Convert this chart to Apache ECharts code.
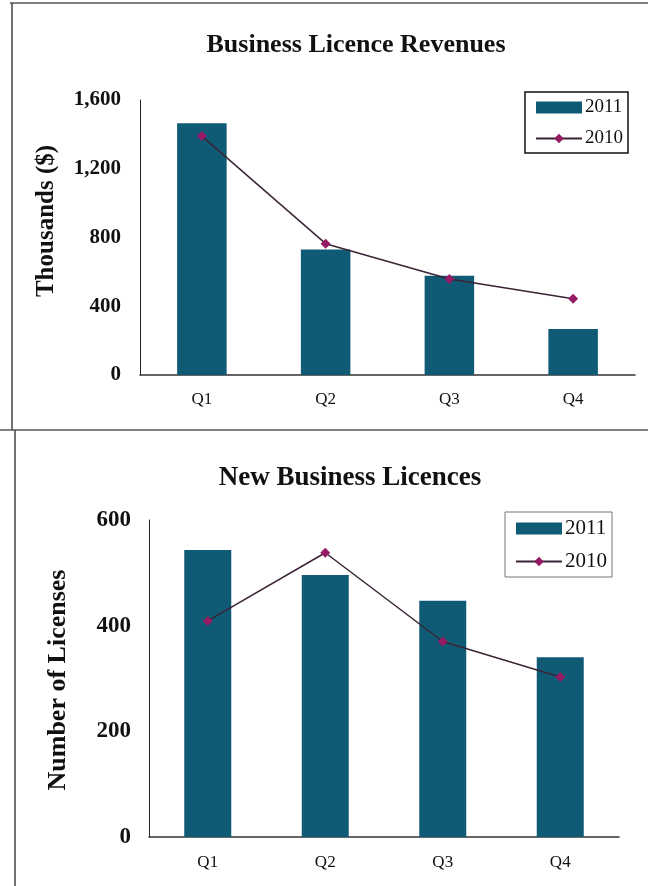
<!DOCTYPE html>
<html>
<head>
<meta charset="utf-8">
<script src="https://cdn.jsdelivr.net/npm/echarts@6/dist/echarts.min.js"></script>
<style>
  html, body { margin: 0; padding: 0; background: #fff; }
  #chart { width: 648px; height: 886px; }
</style>
</head>
<body>
<div id="chart"></div>
<script>
// Quarterly categories shared by both panels
const quarters = ['Q1', 'Q2', 'Q3', 'Q4'];

// Business licence revenues, thousands of dollars
const revenue2011 = [1465, 730, 578, 268];
const revenue2010 = [1390, 764, 558, 443];
const revenueTicks = [0, 400, 800, 1200, 1600];

// New business licences issued
const licences2011 = [543, 496, 447, 340];
const licences2010 = [409, 538, 370, 303];
const licenceTicks = [0, 200, 400, 600];

const SERIF = '"Liberation Serif", "Times New Roman", "DejaVu Serif", serif';
const BAR_COLOR = '#0f5a74';
const MARK_COLOR = '#951c64';
const LINE_COLOR = '#3a2436';

function fmtThousands(v) {
  return String(v).replace(/\B(?=(\d{3})+(?!\d))/g, ',');
}

function valueAxis(gridIndex, ticks, fontSize, margin) {
  const step = ticks[1] - ticks[0];
  return {
    type: 'value', gridIndex: gridIndex,
    min: ticks[0], max: ticks[ticks.length - 1], interval: step,
    axisLine: { show: true, lineStyle: { color: '#222', width: 1 } },
    axisTick: { show: false },
    splitLine: { show: false },
    axisLabel: {
      margin: margin, color: '#111', fontFamily: SERIF, fontWeight: 'bold', fontSize: fontSize,
      formatter: fmtThousands
    }
  };
}

function categoryAxis(gridIndex, margin) {
  return {
    type: 'category', gridIndex: gridIndex, data: quarters,
    axisLine: { show: true, lineStyle: { color: '#333', width: 1.5 } },
    axisTick: { show: false },
    axisLabel: { margin: margin, color: '#111', fontFamily: SERIF, fontSize: 17 }
  };
}

function barSeries(idx, data) {
  return {
    name: '2011', type: 'bar', xAxisIndex: idx, yAxisIndex: idx, data: data,
    barWidth: '40%', itemStyle: { color: BAR_COLOR }, z: 2
  };
}

function lineSeries(idx, data) {
  return {
    name: '2010', type: 'line', xAxisIndex: idx, yAxisIndex: idx, data: data,
    symbol: 'diamond', symbolSize: 10,
    itemStyle: { color: MARK_COLOR },
    lineStyle: { color: LINE_COLOR, width: 1.5 }, z: 3
  };
}

function legend(left, top, fontSize, borderColor, borderWidth) {
  return {
    orient: 'vertical', left: left, top: top,
    data: [{ name: '2011', icon: 'rect' }, { name: '2010' }],
    itemWidth: 46, itemHeight: 12, itemGap: 12,
    padding: [6, 5, 5, 10],
    borderColor: borderColor, borderWidth: borderWidth,
    selectedMode: false,
    textStyle: { fontFamily: SERIF, fontSize: fontSize, color: '#111', padding: [0, 0, 0, -2] }
  };
}

const chart = echarts.init(document.getElementById('chart'), null, { renderer: 'canvas' });

chart.setOption({
  backgroundColor: '#fff',
  animation: false,
  grid: [
    { left: 140, right: 13, top: 100, height: 275 },
    { left: 149, right: 29, top: 520, height: 317 }
  ],
  xAxis: [categoryAxis(0, 16), categoryAxis(1, 17)],
  yAxis: [valueAxis(0, revenueTicks, 21, 19), valueAxis(1, licenceTicks, 23, 18)],
  legend: [
    legend(525, 92, 19, '#111', 1.5),
    legend(505, 512, 21, '#777', 1)
  ],
  series: [
    barSeries(0, revenue2011), lineSeries(0, revenue2010),
    barSeries(1, licences2011), lineSeries(1, licences2010)
  ],
  graphic: [
    // panel frames
    { type: 'line', shape: { x1: 10, y1: 3, x2: 648, y2: 3 }, style: { stroke: '#555', lineWidth: 1.5 } },
    { type: 'line', shape: { x1: 12, y1: 3, x2: 12, y2: 430 }, style: { stroke: '#444', lineWidth: 1.5 } },
    { type: 'line', shape: { x1: 0, y1: 430, x2: 648, y2: 430 }, style: { stroke: '#555', lineWidth: 1.5 } },
    { type: 'line', shape: { x1: 15, y1: 430, x2: 15, y2: 886 }, style: { stroke: '#444', lineWidth: 1.5 } },
    // panel titles
    { type: 'text', x: 356, y: 45, style: { text: 'Business Licence Revenues', fill: '#111',
      font: 'bold 26px ' + SERIF, textAlign: 'center', textVerticalAlign: 'middle' } },
    { type: 'text', x: 350, y: 478, style: { text: 'New Business Licences', fill: '#111',
      font: 'bold 27px ' + SERIF, textAlign: 'center', textVerticalAlign: 'middle' } },
    // value-axis names
    { type: 'text', x: 47, y: 221, rotation: Math.PI / 2, style: { text: 'Thousands ($)', fill: '#111',
      font: 'bold 25px ' + SERIF, textAlign: 'center', textVerticalAlign: 'middle' } },
    { type: 'text', x: 58, y: 680, rotation: Math.PI / 2, style: { text: 'Number of Licenses', fill: '#111',
      font: 'bold 26px ' + SERIF, textAlign: 'center', textVerticalAlign: 'middle' } }
  ]
});
</script>
</body>
</html>
